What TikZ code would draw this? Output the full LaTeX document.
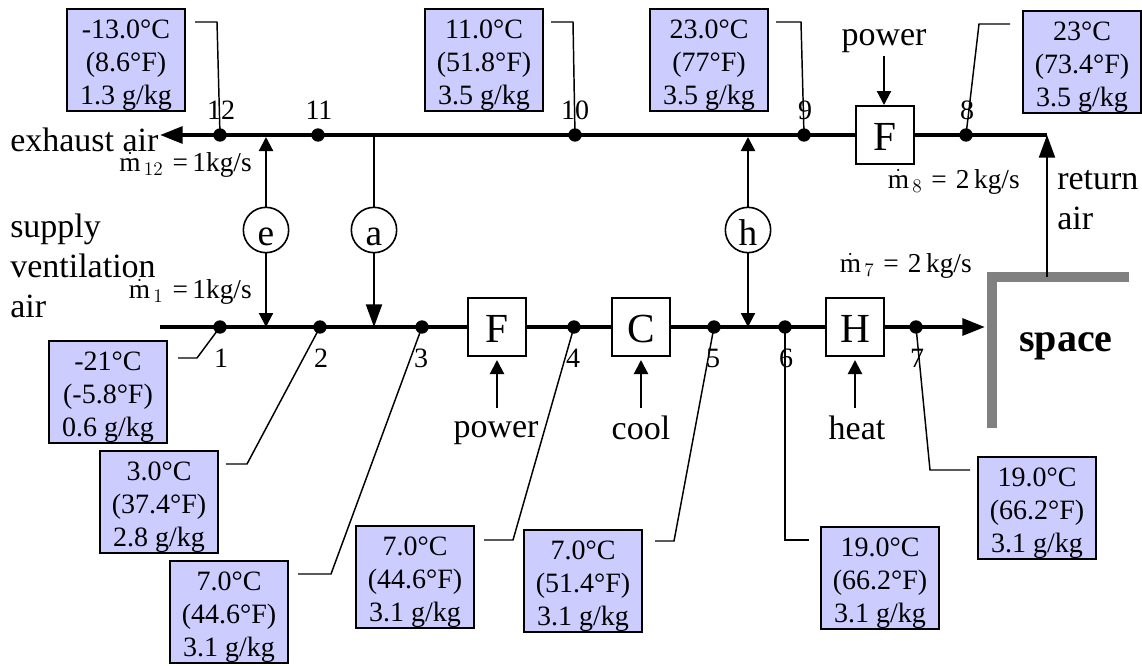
\documentclass[tikz,border=0pt]{standalone}
\usepackage{fontspec}
\setmainfont{Liberation Serif}
\usetikzlibrary{arrows.meta}
\definecolor{boxblue}{HTML}{CCCCFF}
\definecolor{wallgray}{HTML}{808080}
\newcommand{\flowrate}[2]{$\dot{\mathrm{m}}_{\,#1}$\,\,=\,#2kg/s}
\newcommand{\dropped}[1]{\raisebox{-11.3pt}[0pt][0pt]{#1}}
\newcommand{\statetxt}[3]{\raisebox{-9pt}[0pt][0pt]{\begin{tabular}{@{}c@{}}#1\\#2\\#3\end{tabular}}}
\tikzset{
  txt/.style={inner sep=0pt,font=\fontsize{25.5}{30}\selectfont,align=left},
  numtxt/.style={inner sep=0pt,font=\fontsize{21}{24}\selectfont},
  flowtxt/.style={inner sep=0pt,font=\fontsize{20.5}{24}\selectfont},
  databox/.style={draw,fill=boxblue,line width=1.6pt,minimum width=89pt,minimum height=77pt,
    inner sep=0pt,font=\fontsize{21}{24.75}\selectfont},
  unit/.style={draw,fill=white,line width=1.6pt,minimum width=44pt,minimum height=43pt,
    inner sep=0pt,font=\fontsize{31}{34}\selectfont},
  valve/.style={circle,draw,fill=white,line width=1.2pt,minimum size=34pt,inner sep=0pt,
    font=\fontsize{28}{30}\selectfont},
  dot/.style={circle,fill=black,minimum size=10pt,inner sep=0pt},
  main/.style={line width=3pt},
  mainarrow/.style={line width=3pt,-{Triangle[length=17pt,width=12.5pt]}},
  branch/.style={line width=1.6pt},
  brancharrow/.style={line width=1.6pt,-{Triangle[length=10.5pt,width=10.5pt]}},
  bigarrow/.style={line width=1.6pt,-{Triangle[length=17pt,width=12pt]}},
  leader/.style={line width=1.1pt}
}
\begin{document}
\begin{tikzpicture}[x=0.75pt,y=-0.75pt]
\useasboundingbox (0,0) rectangle (1142,665);

% ducts
\coordinate (retcorner) at (1047,135);
\coordinate (exend) at (160,135);
\coordinate (supstart) at (160,327);
\coordinate (supend) at (985,327);
\coordinate (wallA) at (1129,277);
\coordinate (wallB) at (992,277);
\coordinate (wallC) at (992,428);
\coordinate (retstart) at (1047,277);
\coordinate (ea) at (266,137);
\coordinate (eb) at (266,327);
\coordinate (aa) at (374,135);
\coordinate (ab) at (374,327);
\coordinate (ha) at (748,137);
\coordinate (hb) at (748,327);

\draw[line width=7.5pt,color=wallgray] (wallA) -- (wallB) -- (wallC);
\draw[mainarrow] (retcorner) -- (exend);
\draw[mainarrow] (supstart) -- (supend);
\draw[bigarrow] (retstart) -- (retcorner);

% points on the ducts
\node[dot] (p12) at (220,135) {};
\node[dot] (p11) at (318,135) {};
\node[dot] (p10) at (575,135) {};
\node[dot] (p9) at (804,135) {};
\node[dot] (p8) at (966,135) {};
\node[dot] (p1) at (220,327) {};
\node[dot] (p2) at (320,327) {};
\node[dot] (p3) at (422,327) {};
\node[dot] (p4) at (574,327) {};
\node[dot] (p5) at (714,327) {};
\node[dot] (p6) at (785,327) {};
\node[dot] (p7) at (916,327) {};

\node[numtxt] (n12) at (221,110) {12};
\node[numtxt] (n11) at (319,110) {11};
\node[numtxt] (n10) at (575,110) {10};
\node[numtxt] (n9) at (805,110) {9};
\node[numtxt] (n8) at (967,110) {8};
\node[numtxt] (n1) at (221,358) {1};
\node[numtxt] (n2) at (321,358) {2};
\node[numtxt] (n3) at (421,358) {3};
\node[numtxt] (n4) at (573,358) {4};
\node[numtxt] (n5) at (713,358) {5};
\node[numtxt] (n6) at (786,358) {6};
\node[numtxt] (n7) at (917,358) {7};

% fan, coil and heater boxes
\node[unit] (fantop) at (885,135) {\dropped{F}};
\node[unit] (fanlow) at (497,327) {\dropped{F}};
\node[unit] (cool) at (641,327) {\dropped{C}};
\node[unit] (heat) at (855,327) {\dropped{H}};

\node[txt] (powertop) at (884,41) {power};
\node[txt] (powerlow) at (496,433) {power};
\node[txt] (cooltxt) at (641,428) {cool};
\node[txt] (heattxt) at (857,428) {heat};
\coordinate (powertopin) at (884,56);
\coordinate (powerlowin) at (497,408);
\coordinate (coolin) at (641,408);
\coordinate (heatin) at (855,408);
\coordinate (fanlowtip) at (497,360);
\coordinate (cooltip) at (641,360);
\coordinate (heattip) at (855,360);
\coordinate (fantoptip) at (884,105);
\draw[brancharrow] (powertopin) -- (fantoptip);
\draw[brancharrow] (powerlowin) -- (fanlowtip);
\draw[brancharrow] (coolin) -- (cooltip);
\draw[brancharrow] (heatin) -- (heattip);

% recovery branches
\node[valve] (e) at (266,230) {\dropped{e}};
\node[valve] (a) at (374,230) {\dropped{a}};
\node[valve] (h) at (748,230) {\dropped{h}};
\draw[brancharrow] (e) -- (ea);
\draw[brancharrow] (e) -- (eb);
\draw[branch] (aa) -- (a);
\draw[bigarrow] (a) -- (ab);
\draw[brancharrow] (h) -- (ha);
\draw[brancharrow] (h) -- (hb);

% air labels
\node[txt,anchor=west] (exhaust) at (10,140) {exhaust air};
\node[txt,anchor=west] (supply) at (10,266) {supply\\ventilation\\air};
\node[txt,anchor=west] (return) at (1057,200) {return\\air};
\node[inner sep=0pt,font=\fontsize{30}{34}\selectfont\bfseries] (space) at (1066,346) {space};

\node[flowtxt,anchor=east] (m12) at (252,165) {\flowrate{12}{1}};
\node[flowtxt,anchor=east] (m1) at (252,292) {\flowrate{1}{1}};
\node[flowtxt,anchor=east] (m8) at (1020,182) {\flowrate{8}{\,2\,}};
\node[flowtxt,anchor=east] (m7) at (972,266) {\flowrate{7}{\,2\,}};

% state boxes
\node[databox] (s12) at (126,60) {\statetxt{-13.0°C}{(8.6°F)}{1.3 g/kg}};
\node[databox] (s10) at (484,60) {\statetxt{11.0°C}{(51.8°F)}{3.5 g/kg}};
\node[databox] (s9) at (709,60) {\statetxt{23.0°C}{(77°F)}{3.5 g/kg}};
\node[databox] (s8) at (1082,62) {\statetxt{23°C}{(73.4°F)}{3.5 g/kg}};
\node[databox] (s1) at (108,392) {\statetxt{-21°C}{(-5.8°F)}{0.6 g/kg}};
\node[databox] (s2) at (159,502) {\statetxt{3.0°C}{(37.4°F)}{2.8 g/kg}};
\node[databox] (s3) at (229,612) {\statetxt{7.0°C}{(44.6°F)}{3.1 g/kg}};
\node[databox] (s4) at (415,577) {\statetxt{7.0°C}{(44.6°F)}{3.1 g/kg}};
\node[databox] (s5) at (583,581) {\statetxt{7.0°C}{(51.4°F)}{3.1 g/kg}};
\node[databox] (s6) at (880,578) {\statetxt{19.0°C}{(66.2°F)}{3.1 g/kg}};
\node[databox] (s7) at (1037,508) {\statetxt{19.0°C}{(66.2°F)}{3.1 g/kg}};

% leaders from state boxes to points
\coordinate (l12a) at (195,22);
\coordinate (l12b) at (217,22);
\coordinate (l10a) at (551,22);
\coordinate (l10b) at (573,22);
\coordinate (l9a) at (776,22);
\coordinate (l9b) at (801,22);
\coordinate (l8a) at (1010,24);
\coordinate (l8b) at (979,24);
\coordinate (l1a) at (178,358);
\coordinate (l1b) at (197,358);
\coordinate (l2a) at (226,464);
\coordinate (l2b) at (247,464);
\coordinate (l3a) at (298,574);
\coordinate (l3b) at (331,574);
\coordinate (l4a) at (484,540);
\coordinate (l4b) at (513,540);
\coordinate (l5a) at (655,541);
\coordinate (l5b) at (674,541);
\coordinate (l6a) at (809,540);
\coordinate (l6b) at (785,540);
\coordinate (l7a) at (970,470);
\coordinate (l7b) at (930,470);
\draw[leader] (l12a) -- (l12b) -- (p12.center);
\draw[leader] (l10a) -- (l10b) -- (p10.center);
\draw[leader] (l9a) -- (l9b) -- (p9.center);
\draw[leader] (l8a) -- (l8b) -- (p8.center);
\draw[leader] (l1a) -- (l1b) -- (p1.center);
\draw[leader] (l2a) -- (l2b) -- (p2.center);
\draw[leader] (l3a) -- (l3b) -- (p3.center);
\draw[leader] (l4a) -- (l4b) -- (p4.center);
\draw[leader] (l5a) -- (l5b) -- (p5.center);
\draw[leader] (l6a) -- (l6b) -- (p6.center);
\draw[leader] (l7a) -- (l7b) -- (p7.center);
\end{tikzpicture}
\end{document}
